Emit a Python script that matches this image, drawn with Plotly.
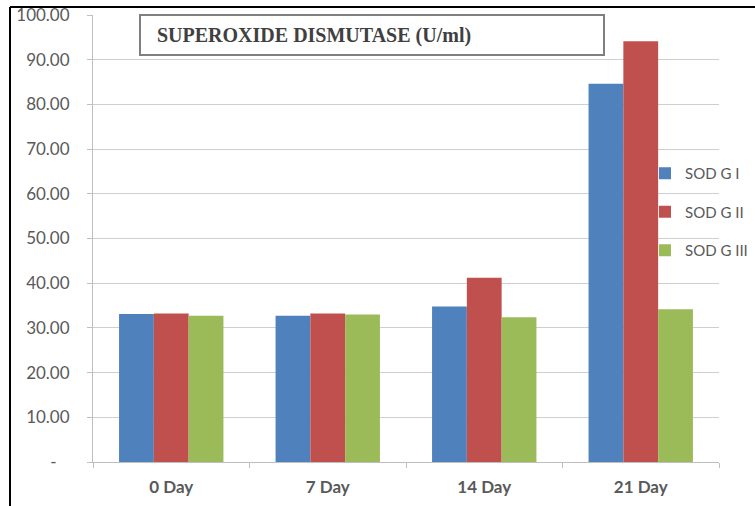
import plotly.graph_objects as go

# Sampling days and SOD activity (U/ml) per group
days = ["0 Day", "7 Day", "14 Day", "21 Day"]
sod_g1 = [33.1, 32.7, 34.8, 84.6]
sod_g2 = [33.2, 33.2, 41.2, 94.1]
sod_g3 = [32.7, 33.0, 32.4, 34.2]
series_names = ["SOD G I", "SOD G II", "SOD G III"]
series_colors = ["#4F81BD", "#C0504D", "#9BBB59"]

y_ticks = [0, 10, 20, 30, 40, 50, 60, 70, 80, 90, 100]
y_tick_text = ["-\u00a0\u00a0\u00a0"] + [f"{v:.2f}" for v in y_ticks[1:]]

title_text = "SUPEROXIDE DISMUTASE (U/ml)"

W, H = 755, 506
L, R, T, B = 93, 36, 15, 44
PW, PH = W - L - R, H - T - B


def px(x):
    return (x - L) / PW


def py(y):
    return (H - B - y) / PH


fig = go.Figure()
for name, vals, col in zip(series_names, [sod_g1, sod_g2, sod_g3], series_colors):
    fig.add_trace(go.Bar(x=days, y=vals, name=name, marker_color=col,
                         marker_line_width=0, legendgroup=name))

fig.update_layout(
    width=W, height=H,
    margin=dict(l=L, r=R, t=T, b=B, pad=0, autoexpand=False),
    paper_bgcolor="white", plot_bgcolor="white",
    barmode="group", bargap=0.333, bargroupgap=0,
    font=dict(family="Lato", color="#595959"),
    showlegend=True,
    legend=dict(x=px(645), y=py(157), xanchor="left", yanchor="top",
                font=dict(size=15, color="#595959", family="Lato"),
                bgcolor="rgba(0,0,0,0)", tracegroupgap=16,
                itemclick=False),
)

fig.update_xaxes(
    showline=True, linecolor="#bfbfbf", linewidth=1,
    ticks="outside", tickson="boundaries", ticklen=5, tickcolor="#bfbfbf",
    tickfont=dict(size=17, family="Lato", color="#595959", weight="bold"),
    ticklabelstandoff=10,
    showgrid=False,
)
fig.update_yaxes(
    range=[0, 100], tickvals=y_ticks, ticktext=y_tick_text,
    showline=True, linecolor="#bfbfbf", linewidth=1,
    ticks="outside", ticklen=5, tickcolor="#bfbfbf",
    tickfont=dict(size=17, family="Lato", color="#595959"),
    ticklabelstandoff=14,
    showgrid=True, gridcolor="#cfcfcf", gridwidth=1,
    zeroline=False,
)

# Title box
fig.add_shape(type="rect", xref="paper", yref="paper",
              x0=px(140), x1=px(604), y0=py(55), y1=py(15),
              line=dict(color="#7f7f7f", width=2), fillcolor="white",
              layer="above")
fig.add_annotation(xref="paper", yref="paper", x=px(155), y=py(35),
                   xanchor="left", yanchor="middle", showarrow=False,
                   text=f"<b>{title_text}</b>",
                   font=dict(family="Liberation Serif", size=20, color="#404040"))

# Outer frame (top and left edges)
fig.add_shape(type="line", xref="paper", yref="paper",
              x0=px(10), x1=px(W + 5), y0=py(7), y1=py(7),
              line=dict(color="black", width=2), layer="above")
fig.add_shape(type="line", xref="paper", yref="paper",
              x0=px(10), x1=px(10), y0=py(7), y1=py(H + 5),
              line=dict(color="black", width=2), layer="above")

fig.write_html("out.html")
